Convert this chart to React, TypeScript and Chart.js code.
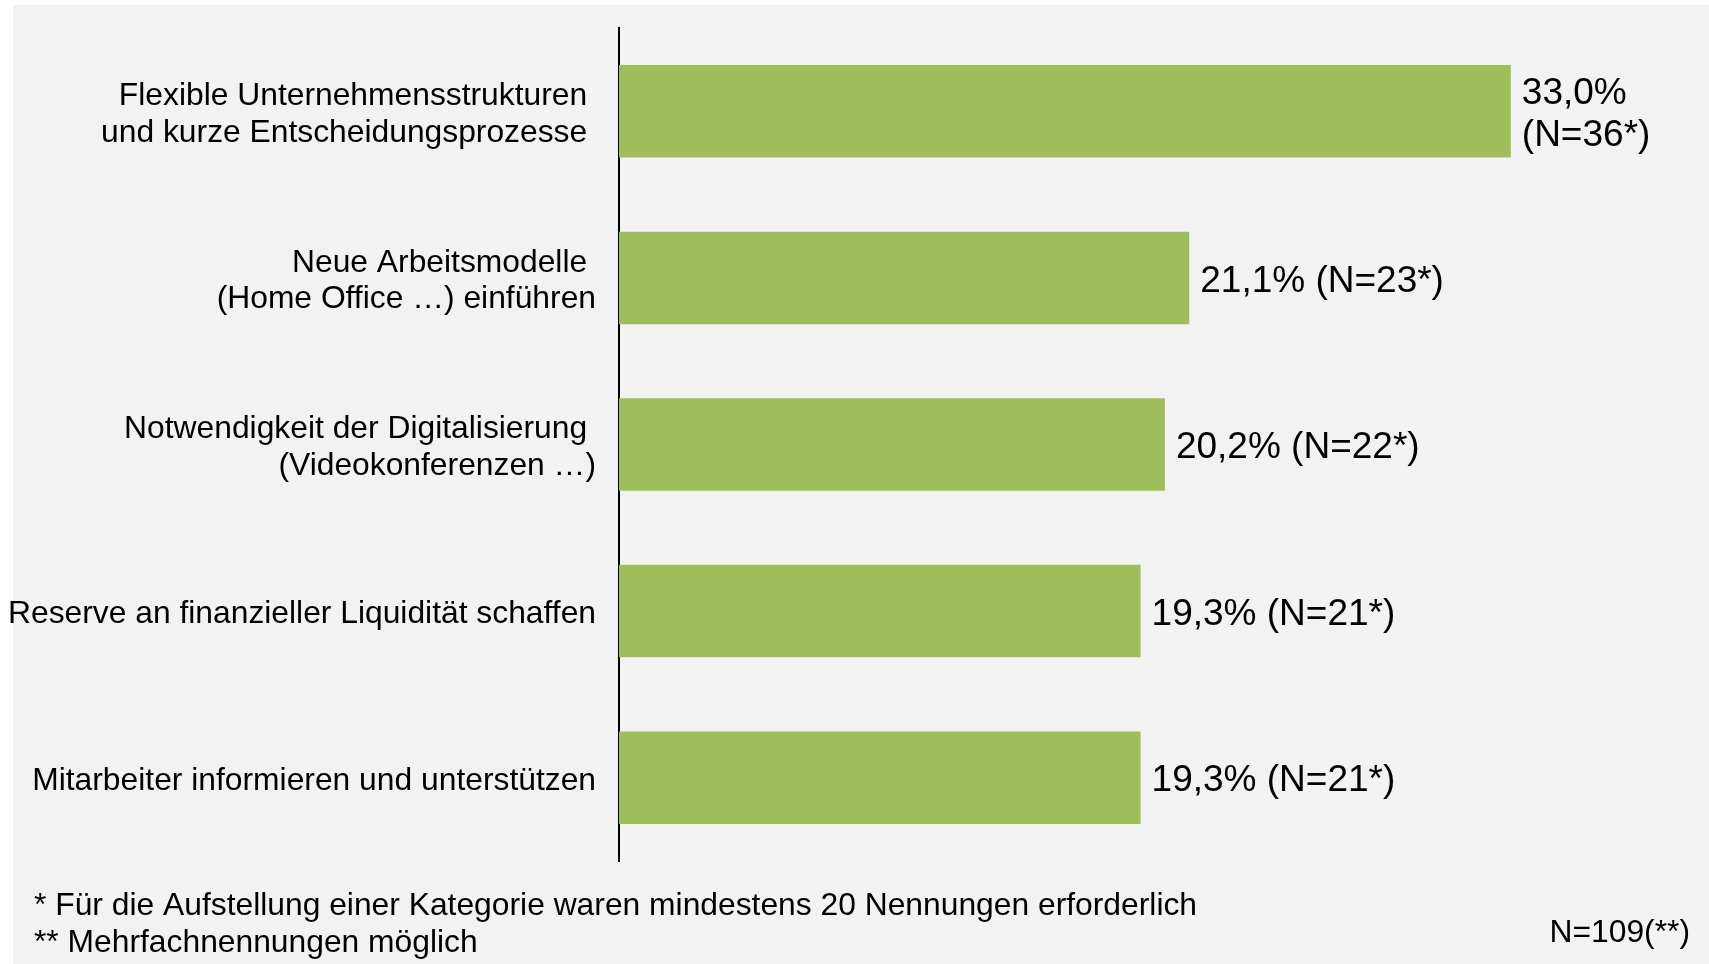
import React, { useEffect, useRef } from "react";
import { Chart, registerables } from "chart.js";

Chart.register(...registerables);

const categories: (string | string[])[] = [
  ["Flexible Unternehmensstrukturen ", "und kurze Entscheidungsprozesse "],
  ["Neue Arbeitsmodelle ", "(Home Office …) einführen"],
  ["Notwendigkeit der Digitalisierung ", "(Videokonferenzen …)"],
  "Reserve an finanzieller Liquidität schaffen",
  "Mitarbeiter informieren und unterstützen",
];
const percentValues: number[] = [33.0, 21.1, 20.2, 19.3, 19.3];
const dataLabels: (string | string[])[] = [
  ["33,0%", "(N=36*)"],
  "21,1% (N=23*)",
  "20,2% (N=22*)",
  "19,3% (N=21*)",
  "19,3% (N=21*)",
];
const footnotes: string[] = [
  "* Für die Aufstellung einer Kategorie waren mindestens 20 Nennungen erforderlich",
  "** Mehrfachnennungen möglich",
];
const sampleNote = "N=109(**)";

const FONT = '"Liberation Sans", Arial, Helvetica, sans-serif';
const BAR_COLOR = "#9fbe5b";
const BG = "#f2f2f2";

const bgPlugin = {
  id: "bgPlugin",
  beforeDraw(chart: any) {
    const { ctx, width, height } = chart;
    ctx.save();
    ctx.fillStyle = "#ffffff";
    ctx.fillRect(0, 0, width, height);
    ctx.fillStyle = BG;
    ctx.fillRect(13, 5, width - 13, height - 5);
    ctx.restore();
  },
};

const labelPlugin = {
  id: "labelPlugin",
  afterDatasetsDraw(chart: any) {
    const { ctx } = chart;
    const meta = chart.getDatasetMeta(0);
    ctx.save();
    ctx.fillStyle = "#000";
    ctx.font = `37px ${FONT}`;
    ctx.textAlign = "left";
    ctx.textBaseline = "middle";
    meta.data.forEach((el: any, i: number) => {
      const lbl = dataLabels[i];
      const lines = Array.isArray(lbl) ? lbl : [lbl];
      const lh = 42.5;
      lines.forEach((t, j) => {
        ctx.fillText(t, el.x + 11, el.y + 3.5 + (j - (lines.length - 1) / 2) * lh);
      });
    });
    ctx.restore();
  },
  afterDraw(chart: any) {
    const { ctx, width } = chart;
    ctx.save();
    ctx.fillStyle = "#000";
    ctx.font = `31.8px ${FONT}`;
    ctx.textBaseline = "middle";
    ctx.textAlign = "left";
    ctx.fillText(footnotes[0], 34, 906);
    ctx.fillText(footnotes[1], 34, 943);
    ctx.textAlign = "right";
    ctx.fillText(sampleNote, width - 19, 933);
    ctx.restore();
  },
};

export default function App() {
  const ref = useRef<HTMLCanvasElement | null>(null);

  useEffect(() => {
    if (!ref.current) return;
    const chart = new Chart(ref.current, {
      type: "bar",
      data: {
        labels: categories,
        datasets: [
          {
            data: percentValues,
            backgroundColor: BAR_COLOR,
            borderWidth: 0,
            barPercentage: 0.555,
            categoryPercentage: 1,
          },
        ],
      },
      options: {
        indexAxis: "y",
        responsive: false,
        animation: false,
        layout: { padding: { left: 0, top: 28, right: 9, bottom: 103 } },
        plugins: {
          legend: { display: false },
          tooltip: { enabled: false },
          title: { display: false },
        },
        scales: {
          x: {
            display: false,
            min: 0,
            max: 40,
          },
          y: {
            grid: { display: true, color: "rgba(0,0,0,0)", drawTicks: false },
            border: { display: true, color: "#000", width: 2 },
            ticks: {
              color: "#000",
              padding: 23,
              labelOffset: 3.5,
              font: { family: FONT, size: 31.8, lineHeight: 1.15 },
            },
            afterFit(scale: any) {
              scale.width = 619;
              scale.paddingTop = 0;
              scale.paddingBottom = 0;
            },
          },
        },
      },
      plugins: [bgPlugin, labelPlugin],
    });
    return () => chart.destroy();
  }, []);

  return (
    <div style={{ position: "fixed", left: 0, top: 0, width: 1709, height: 964 }}>
      <canvas ref={ref} width={1709} height={964} style={{ display: "block" }} />
    </div>
  );
}
